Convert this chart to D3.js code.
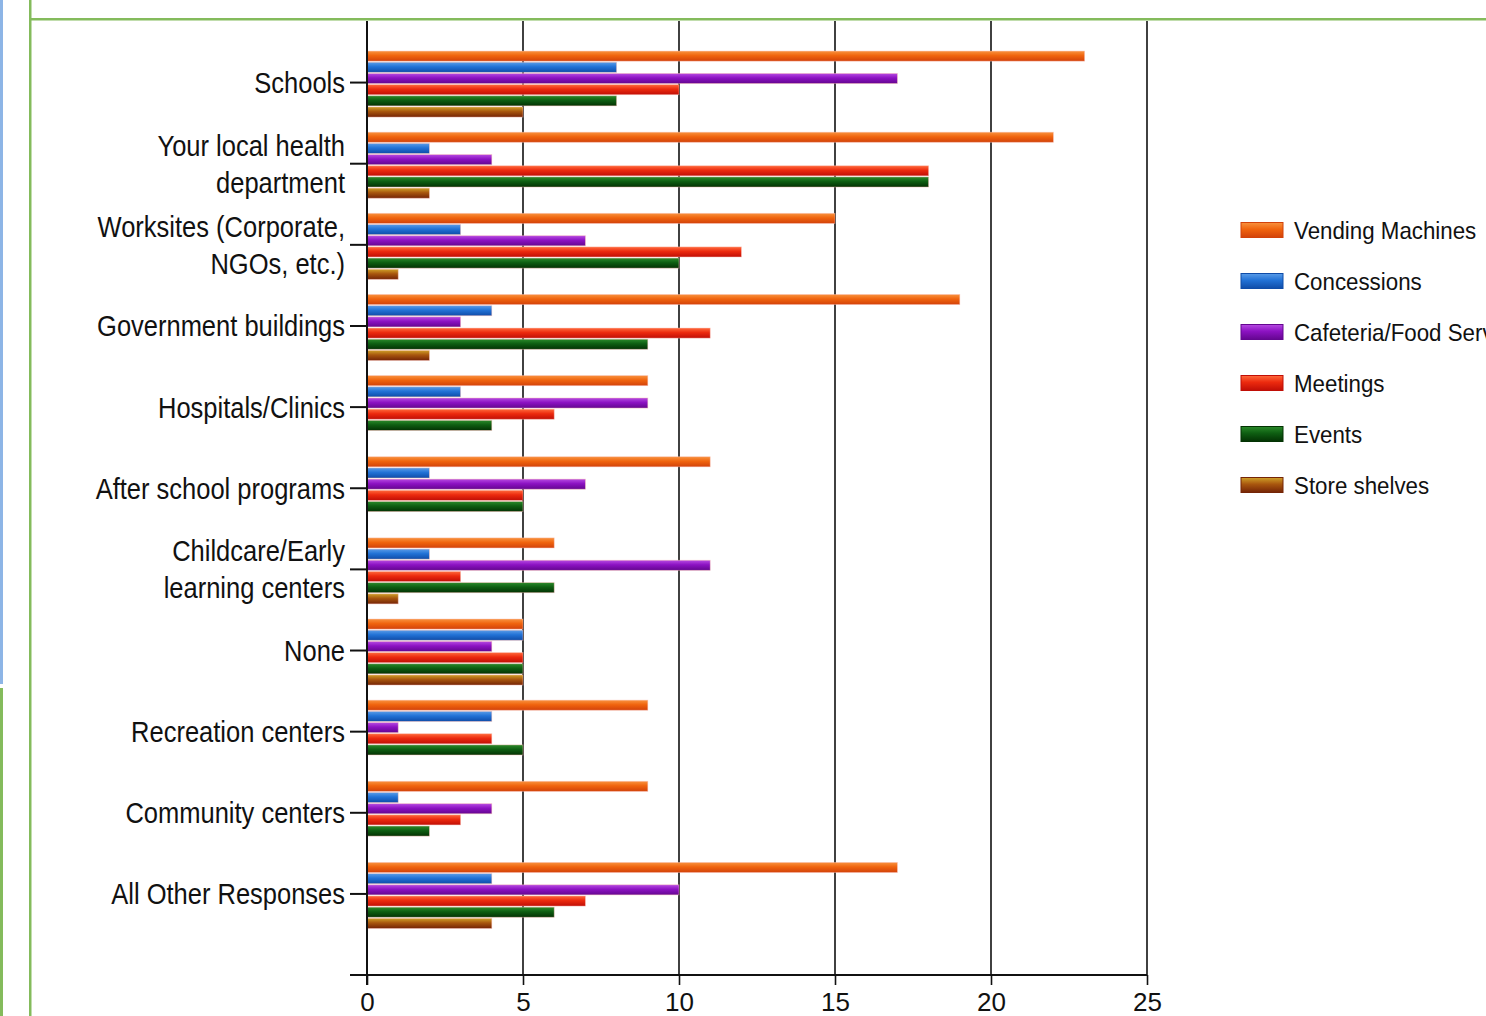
<!DOCTYPE html>
<html>
<head>
<meta charset="utf-8">
<script src="https://cdn.jsdelivr.net/npm/d3@7"></script>
<style>
  html, body { margin: 0; padding: 0; background: #fff; overflow: hidden; }
  svg { display: block; }
</style>
</head>
<body>
<svg id="chart" width="1486" height="1016"></svg>
<script>
// ---- data ----
const categories = [
  ["Schools"],
  ["Your local health", "department"],
  ["Worksites (Corporate,", "NGOs, etc.)"],
  ["Government buildings"],
  ["Hospitals/Clinics"],
  ["After school programs"],
  ["Childcare/Early", "learning centers"],
  ["None"],
  ["Recreation centers"],
  ["Community centers"],
  ["All Other Responses"]
];
const seriesNames = ["Vending Machines", "Concessions", "Cafeteria/Food Service", "Meetings", "Events", "Store shelves"];
const vendingMachines = [23, 22, 15, 19, 9, 11, 6, 5, 9, 9, 17];
const concessions     = [8, 2, 3, 4, 3, 2, 2, 5, 4, 1, 4];
const cafeteria       = [17, 4, 7, 3, 9, 7, 11, 4, 1, 4, 10];
const meetings        = [10, 18, 12, 11, 6, 5, 3, 5, 4, 3, 7];
const events          = [8, 18, 10, 9, 4, 5, 6, 5, 5, 2, 6];
const storeShelves    = [5, 2, 1, 2, 0, 0, 1, 5, 0, 0, 4];
const xTicks = [0, 5, 10, 15, 20, 25];

const seriesValues = [vendingMachines, concessions, cafeteria, meetings, events, storeShelves];
// colour ramps: [top, middle, bottom]
const seriesColors = [
  ["#f8923e", "#f0640e", "#d2420a"],
  ["#5a9ce8", "#2272d6", "#0f4ca8"],
  ["#b64ae2", "#8c12c2", "#640690"],
  ["#ff6a3c", "#ec2a0e", "#c00e06"],
  ["#2a8a2a", "#0e5e12", "#033203"],
  ["#cfa028", "#a8560e", "#742406"]
];

// ---- layout ----
const svg = d3.select("#chart");
const W = 1486, H = 1016;
const x0 = 367, xMax = 1147;
const yTop = 20, yAxis = 975;

const x = d3.scaleLinear().domain([0, 25]).range([x0, xMax]);
const y = d3.scaleBand().domain(d3.range(categories.length)).range([41.5, 934]).paddingInner(0).paddingOuter(0);
const inner = d3.scaleBand().domain(d3.range(seriesNames.length))
  .range([y.bandwidth() / 2 - 31, y.bandwidth() / 2 + 35]).paddingInner(0.1).paddingOuter(0);

// gradients
const defs = svg.append("defs");
seriesColors.forEach((c, i) => {
  const g = defs.append("linearGradient").attr("id", "grad" + i)
    .attr("x1", 0).attr("y1", 0).attr("x2", 0).attr("y2", 1);
  g.append("stop").attr("offset", "0%").attr("stop-color", c[0]);
  g.append("stop").attr("offset", "45%").attr("stop-color", c[1]);
  g.append("stop").attr("offset", "100%").attr("stop-color", c[2]);
});

// frame
svg.append("rect").attr("x", 0).attr("y", 0).attr("width", 3).attr("height", 684).attr("fill", "#8db5e6");
svg.append("rect").attr("x", 0).attr("y", 688).attr("width", 3).attr("height", H - 688).attr("fill", "#84bb5c");
svg.append("rect").attr("x", 29).attr("y", 0).attr("width", 2.5).attr("height", H).attr("fill", "#84bb5c");
svg.append("rect").attr("x", 29).attr("y", 18).attr("width", W - 29).attr("height", 2.5).attr("fill", "#84bb5c");

// grid lines
svg.append("g").selectAll("line").data(xTicks.slice(1)).join("line")
  .attr("x1", d => x(d)).attr("x2", d => x(d))
  .attr("y1", yTop + 1).attr("y2", yAxis)
  .attr("stroke", "#111").attr("stroke-width", 1.6);

// bars
const groups = svg.append("g").selectAll("g").data(categories).join("g")
  .attr("transform", (d, i) => `translate(0,${y(i)})`);
seriesValues.forEach((vals, s) => {
  groups.append("rect")
    .attr("x", x(0))
    .attr("y", inner(s))
    .attr("width", (d, i) => Math.max(0, x(vals[i]) - x(0)))
    .attr("height", inner.bandwidth())
    .attr("fill", `url(#grad${s})`)
    .attr("stroke", "rgba(250,190,180,0.55)")
    .attr("stroke-width", (d, i) => vals[i] > 0 ? 0.8 : 0);
});

// y axis line + category ticks
svg.append("line").attr("x1", x0).attr("x2", x0).attr("y1", yTop + 1).attr("y2", yAxis + 10)
  .attr("stroke", "#111").attr("stroke-width", 2);
svg.append("g").selectAll("line").data(categories).join("line")
  .attr("x1", x0 - 17).attr("x2", x0)
  .attr("y1", (d, i) => y(i) + y.bandwidth() / 2 + 0.5)
  .attr("y2", (d, i) => y(i) + y.bandwidth() / 2 + 0.5)
  .attr("stroke", "#111").attr("stroke-width", 2);

// category labels
const labelFont = "'Liberation Sans', Arial, sans-serif";
const lab = svg.append("g").selectAll("g").data(categories).join("g")
  .attr("transform", (d, i) => `translate(345,${y(i) + y.bandwidth() / 2 + 1}) scale(0.85,1)`);
lab.each(function (lines) {
  const g = d3.select(this);
  const lh = 37;
  const n = lines.length;
  lines.forEach((t, k) => {
    g.append("text")
      .attr("x", 0)
      .attr("y", (k - (n - 1) / 2) * lh + 10)
      .attr("text-anchor", "end")
      .attr("font-family", labelFont)
      .attr("font-size", 30)
      .attr("fill", "#111")
      .text(t);
  });
});

// x axis
const xAxis = d3.axisBottom(x).tickValues(xTicks).tickSize(10).tickSizeOuter(0).tickPadding(4);
const xa = svg.append("g").attr("transform", `translate(0,${yAxis})`).call(xAxis);
xa.select(".domain").remove();
xa.selectAll(".tick line").attr("stroke", "#111").attr("stroke-width", 1.6);
xa.selectAll(".tick text").attr("font-family", labelFont).attr("font-size", 26)
  .attr("fill", "#111").attr("dy", "0.85em");
svg.append("line").attr("x1", x0 - 17).attr("x2", xMax).attr("y1", yAxis).attr("y2", yAxis)
  .attr("stroke", "#111").attr("stroke-width", 2);

// legend
const legend = svg.append("g").selectAll("g").data(seriesNames).join("g")
  .attr("transform", (d, i) => `translate(1241,${230 + i * 51})`);
legend.append("rect").attr("x", 0).attr("y", -7.5).attr("width", 42).attr("height", 15)
  .attr("fill", (d, i) => `url(#grad${i})`)
  .attr("stroke", (d, i) => seriesColors[i][2]).attr("stroke-width", 1);
legend.append("text")
  .attr("transform", "translate(53,9) scale(0.93,1)")
  .attr("font-family", labelFont).attr("font-size", 24).attr("fill", "#111")
  .text(d => d);
</script>
</body>
</html>
